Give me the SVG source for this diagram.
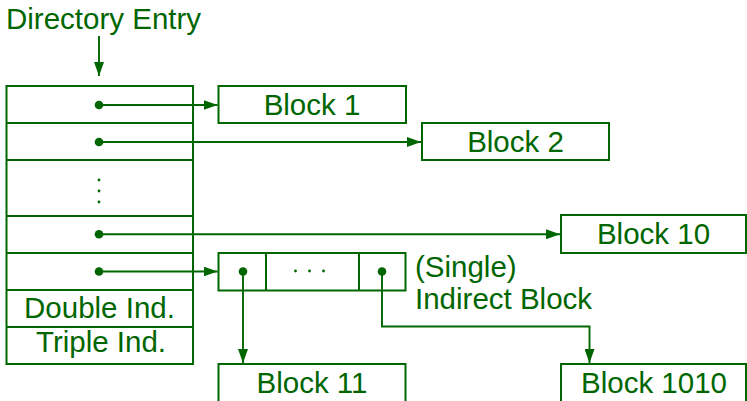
<svg xmlns="http://www.w3.org/2000/svg" width="747" height="401" viewBox="0 0 747 401">
<defs>
<style>
.box{fill:#fff;stroke:#006600;stroke-width:2}
.ln{fill:none;stroke:#006600;stroke-width:1.9}
.dv{stroke:#006600;stroke-width:2}
.dot{fill:#006600}
text{font-family:"Liberation Sans",Arial,sans-serif;font-size:29.5px;fill:#006600}
.c{text-anchor:middle}
</style>
<marker id="ah" markerWidth="14" markerHeight="10" refX="14" refY="5" orient="auto" markerUnits="userSpaceOnUse">
<path d="M0,0 L14,5 L0,10 Z" fill="#006600"/>
</marker>
</defs>
<rect width="747" height="401" fill="#fff"/>
<g id="directory-entry-label">
<text x="6" y="29">Directory Entry</text>
</g>
<g id="inode-table">
<rect class="box" x="6.5" y="86" width="186.5" height="278"/>
<line class="dv" x1="6.5" y1="123" x2="193" y2="123"/>
<line class="dv" x1="6.5" y1="160" x2="193" y2="160"/>
<line class="dv" x1="6.5" y1="216" x2="193" y2="216"/>
<line class="dv" x1="6.5" y1="253" x2="193" y2="253"/>
<line class="dv" x1="6.5" y1="290" x2="193" y2="290"/>
<line class="dv" x1="6.5" y1="327" x2="193" y2="327"/>
<circle class="dot" cx="99" cy="180" r="1.4"/>
<circle class="dot" cx="99" cy="191" r="1.4"/>
<circle class="dot" cx="99" cy="202" r="1.4"/>
<text class="c" x="99.5" y="318">Double Ind.</text>
<text class="c" x="101" y="352">Triple Ind.</text>
</g>
<g id="block1">
<rect class="box" x="218.5" y="86" width="187.5" height="37"/>
<text class="c" x="312" y="114.5">Block 1</text>
</g>
<g id="block2">
<rect class="box" x="422" y="123" width="187" height="37"/>
<text class="c" x="515.5" y="151.5">Block 2</text>
</g>
<g id="block10">
<rect class="box" x="561" y="215" width="185" height="38"/>
<text class="c" x="653.5" y="244">Block 10</text>
</g>
<g id="indirect-block">
<rect class="box" x="218.5" y="253" width="187" height="37.5"/>
<line class="dv" x1="266" y1="253" x2="266" y2="290.5"/>
<line class="dv" x1="359" y1="253" x2="359" y2="290.5"/>
<circle class="dot" cx="295.5" cy="271" r="1.4"/>
<circle class="dot" cx="309.5" cy="271" r="1.4"/>
<circle class="dot" cx="323.5" cy="271" r="1.4"/>
<text x="415" y="277">(Single)</text>
<text x="415" y="309">Indirect Block</text>
</g>
<g id="block11">
<rect class="box" x="218.5" y="364" width="187" height="40"/>
<text class="c" x="312" y="392.5">Block 11</text>
</g>
<g id="block1010">
<rect class="box" x="561" y="364" width="185" height="40"/>
<text class="c" x="654" y="392.5">Block 1010</text>
</g>
<g id="connectors">
<line class="ln" x1="99" y1="36" x2="99" y2="76" marker-end="url(#ah)"/>
<circle class="dot" cx="99" cy="105" r="4.3"/>
<line class="ln" x1="99" y1="105" x2="217.5" y2="105" marker-end="url(#ah)"/>
<circle class="dot" cx="99" cy="142" r="4.3"/>
<line class="ln" x1="99" y1="142" x2="421" y2="142" marker-end="url(#ah)"/>
<circle class="dot" cx="99" cy="234.3" r="4.3"/>
<line class="ln" x1="99" y1="234.3" x2="560" y2="234.3" marker-end="url(#ah)"/>
<circle class="dot" cx="99" cy="271.5" r="4.3"/>
<line class="ln" x1="99" y1="271.5" x2="217.5" y2="271.5" marker-end="url(#ah)"/>
<circle class="dot" cx="243" cy="271.5" r="4.3"/>
<line class="ln" x1="243" y1="271.5" x2="243" y2="363" marker-end="url(#ah)"/>
<circle class="dot" cx="382" cy="271.5" r="4.3"/>
<path class="ln" d="M382,271.5 V326.5 H589.5 V363" marker-end="url(#ah)"/>
</g>
</svg>
